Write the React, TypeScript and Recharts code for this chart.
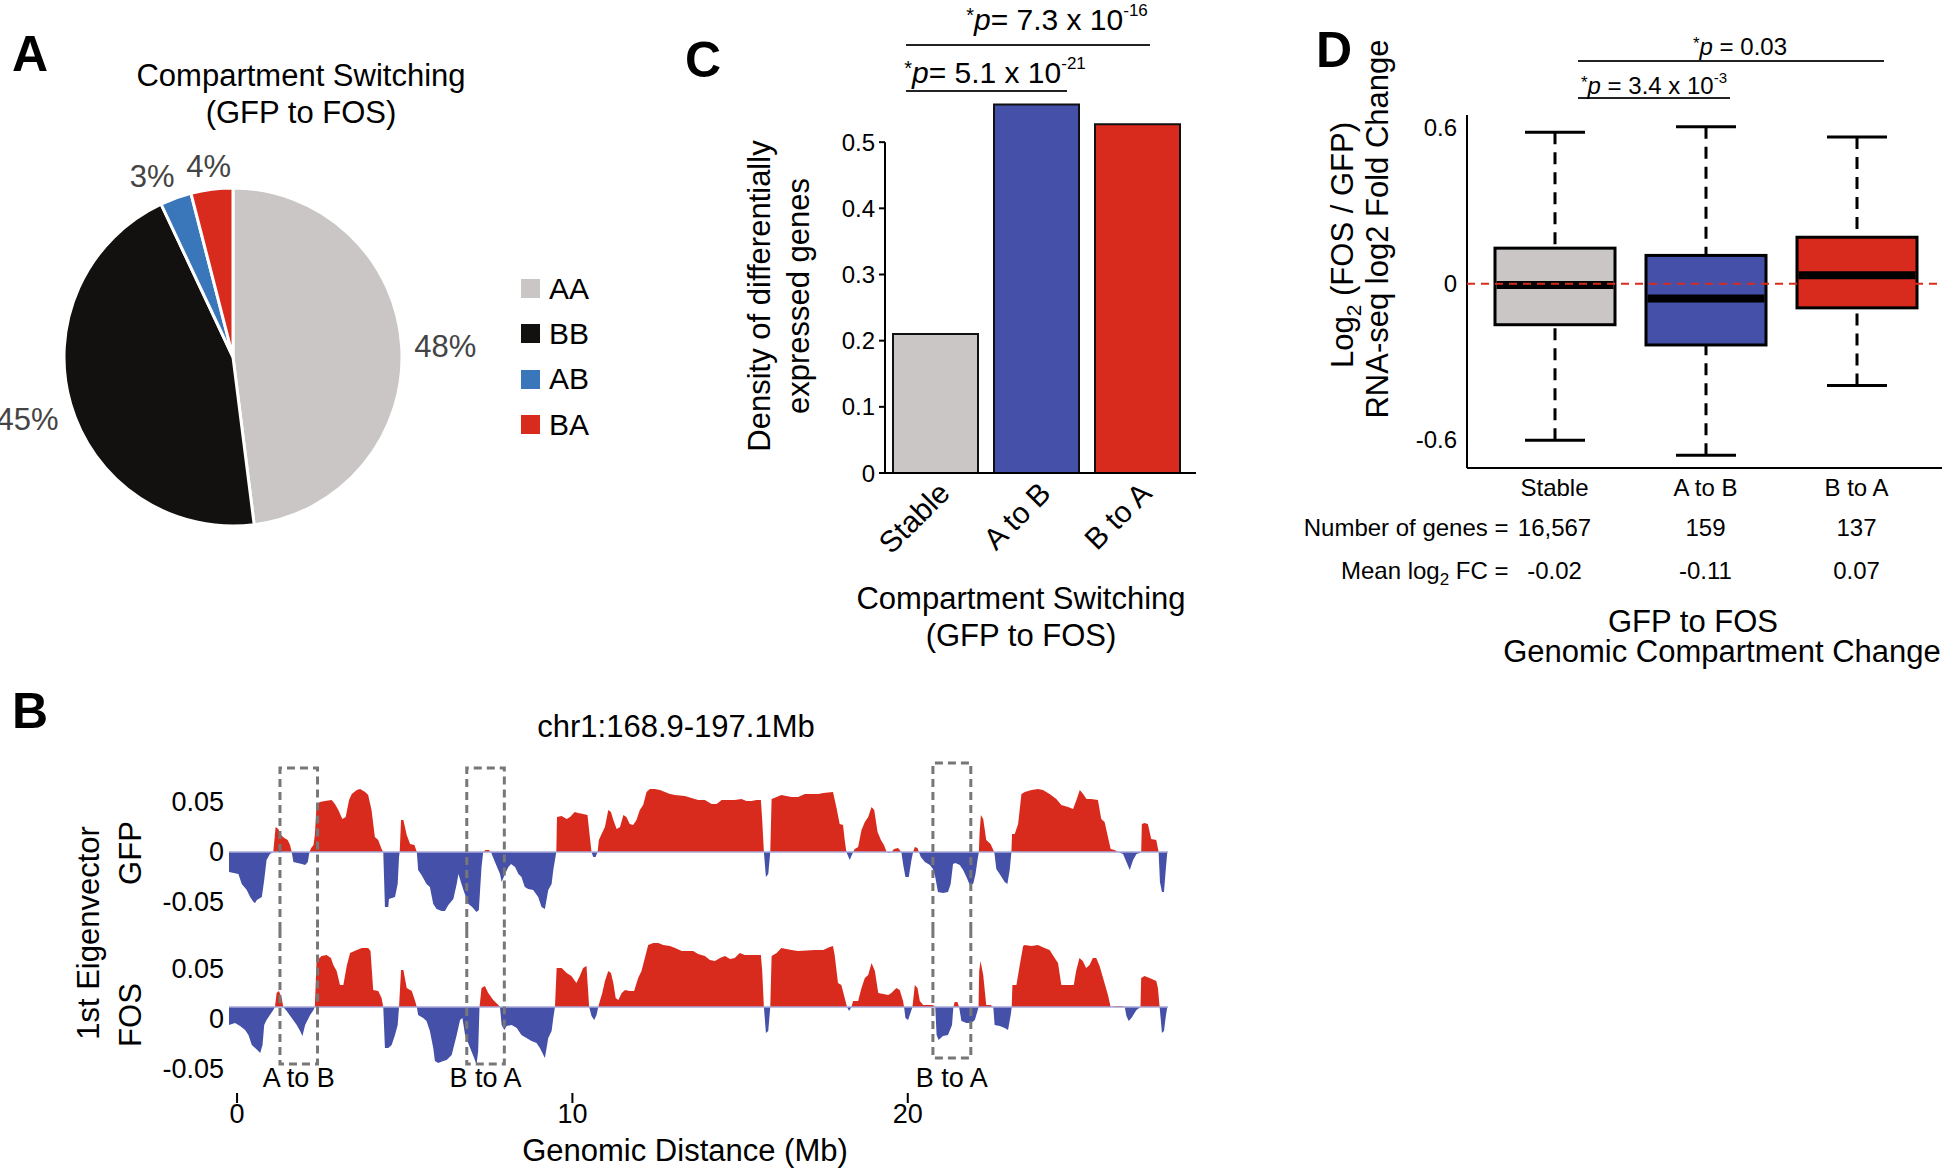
import React from 'react';
import {
  PieChart, Pie, Cell, Legend,
  BarChart, Bar, XAxis, YAxis, ReferenceLine, ReferenceArea,
  AreaChart, Area,
} from 'recharts';

const SANS = "'Liberation Sans', Arial, Helvetica, sans-serif";
const RED = '#d92b1d';
const BLUE = '#4550a8';
const GREY = '#c9c6c5';

// ---- A: compartment switching pie
const switchClasses = ['AA', 'BB', 'AB', 'BA'];
const switchPercents = [48, 45, 3, 4];
const switchColors = [GREY, '#121110', '#3a76ba', RED];
// small slices get their label turned a little so 3% and 4% do not touch
const labelTurnDeg = [0, 0, 4, 0];

// ---- B: first eigenvector tracks (Mb from start of chr1:168.9-197.1Mb)
const gfpMb = [
  -0.24, 0.04, 0.14, 0.29, 0.39, 0.49, 0.54, 0.59, 0.74, 0.81, 0.88, 0.98, 1.08, 1.15, 1.23, 1.31, 1.41, 1.51, 1.58, 1.63,
  1.68, 1.93, 2.03, 2.11, 2.16, 2.21, 2.28, 2.32, 2.37, 2.47, 2.62, 2.82, 2.92, 3.02, 3.14, 3.24, 3.34, 3.42, 3.57, 3.67,
  3.82, 3.91, 4.01, 4.11, 4.21, 4.31, 4.36, 4.41, 4.51, 4.53, 4.71, 4.79, 4.83, 4.85, 4.89, 4.96, 5.06, 5.16, 5.29, 5.36,
  5.40, 5.50, 5.65, 5.75, 5.85, 5.95, 6.10, 6.20, 6.30, 6.45, 6.55, 6.60, 6.75, 6.90, 7.01, 7.14, 7.21, 7.29, 7.34, 7.41,
  7.51, 7.57, 7.69, 7.84, 7.89, 7.99, 8.09, 8.17, 8.29, 8.39, 8.48, 8.58, 8.68, 8.83, 8.98, 9.08, 9.18, 9.28, 9.38, 9.43,
  9.48, 9.52, 9.54, 9.68, 9.83, 9.93, 10.07, 10.17, 10.32, 10.45, 10.52, 10.57, 10.62, 10.69, 10.75, 10.79, 10.87, 10.97, 11.07, 11.15,
  11.22, 11.32, 11.42, 11.52, 11.61, 11.71, 11.81, 11.91, 12.01, 12.11, 12.21, 12.31, 12.46, 12.61, 12.76, 12.91, 13.06, 13.35, 13.55, 13.75,
  13.95, 14.15, 14.30, 14.45, 14.65, 14.84, 15.04, 15.19, 15.34, 15.49, 15.62, 15.66, 15.71, 15.77, 15.84, 15.90, 15.94, 16.09, 16.23, 16.38,
  16.53, 16.73, 16.93, 17.13, 17.33, 17.48, 17.77, 17.87, 17.97, 18.07, 18.12, 18.17, 18.27, 18.37, 18.42, 18.52, 18.62, 18.72, 18.82, 18.92,
  19.00, 19.10, 19.20, 19.29, 19.37, 19.43, 19.51, 19.59, 19.71, 19.81, 19.86, 19.93, 20.03, 20.11, 20.16, 20.21, 20.29, 20.33, 20.39, 20.51,
  20.66, 20.75, 20.82, 20.90, 21.05, 21.20, 21.28, 21.35, 21.42, 21.55, 21.65, 21.75, 21.85, 21.95, 22.02, 22.08, 22.12, 22.14, 22.18, 22.25,
  22.34, 22.47, 22.55, 22.58, 22.64, 22.74, 22.89, 22.97, 23.04, 23.09, 23.11, 23.19, 23.29, 23.39, 23.49, 23.69, 23.88, 24.03, 24.23, 24.43,
  24.58, 24.78, 24.93, 25.03, 25.13, 25.23, 25.33, 25.47, 25.67, 25.77, 25.87, 25.97, 26.05, 26.17, 26.27, 26.42, 26.52, 26.62, 26.72, 26.82,
  26.92, 26.96, 26.98, 27.06, 27.16, 27.26, 27.41, 27.48, 27.52, 27.58, 27.64, 27.70, 27.74,
];
const gfpEigen = [
  -0.020, -0.022, -0.032, -0.038, -0.045, -0.050, -0.051, -0.048, -0.045, -0.028, -0.008, -0.002, 0, 0.025, 0.023, 0.017, 0.014, 0.012, 0.007, 0,
  -0.010, -0.012, -0.013, -0.010, 0, 0.004, 0.007, 0.017, 0.047, 0.050, 0.051, 0.052, 0.048, 0.042, 0.033, 0.035, 0.052, 0.058, 0.062, 0.063,
  0.060, 0.057, 0.042, 0.015, 0.012, 0.003, 0, -0.055, -0.055, -0.047, -0.045, -0.032, -0.005, 0, 0.032, 0.032, 0.017, 0.008, 0.007, 0,
  -0.018, -0.023, -0.032, -0.035, -0.052, -0.057, -0.059, -0.059, -0.053, -0.047, -0.032, -0.022, -0.038, -0.052, -0.055, -0.060, -0.058, -0.015, 0, 0.002,
  0.002, 0, -0.010, -0.022, -0.030, -0.022, -0.015, -0.012, -0.015, -0.022, -0.025, -0.035, -0.037, -0.038, -0.045, -0.055, -0.057, -0.038, -0.032, -0.018,
  -0.008, 0, 0.035, 0.036, 0.033, 0.035, 0.040, 0.039, 0.038, 0.037, 0.015, 0, -0.005, -0.005, 0, 0.012, 0.018, 0.025, 0.042, 0.040,
  0.032, 0.023, 0.025, 0.037, 0.035, 0.028, 0.027, 0.032, 0.042, 0.047, 0.060, 0.063, 0.063, 0.062, 0.060, 0.058, 0.057, 0.056, 0.054, 0.052,
  0.052, 0.048, 0.048, 0.052, 0.052, 0.052, 0.053, 0.051, 0.051, 0.052, 0.052, 0.032, 0, -0.025, -0.022, 0, 0.053, 0.055, 0.057, 0.056,
  0.055, 0.055, 0.058, 0.058, 0.058, 0.059, 0.060, 0.045, 0.028, 0.027, 0.012, 0, -0.008, 0, 0.003, 0.005, 0.022, 0.030, 0.035, 0.045,
  0.042, 0.020, 0.012, 0.007, 0, -0.001, 0, 0.003, 0.004, 0, -0.012, -0.025, -0.025, -0.008, 0, 0.005, 0.004, 0, -0.005, -0.010,
  -0.013, -0.017, -0.025, -0.040, -0.041, -0.040, -0.032, -0.012, -0.011, -0.013, -0.018, -0.025, -0.033, -0.032, -0.022, -0.008, 0, 0.018, 0.037, 0.033,
  0.012, 0.008, 0.002, 0, -0.017, -0.022, -0.030, -0.032, -0.018, 0, 0.018, 0.018, 0.028, 0.058, 0.060, 0.062, 0.063, 0.062, 0.058, 0.053,
  0.047, 0.045, 0.043, 0.052, 0.062, 0.058, 0.053, 0.053, 0.052, 0.033, 0.030, 0.015, 0.003, 0.002, 0, -0.002, -0.010, -0.018, -0.008, -0.002,
  -0.001, 0, 0.028, 0.029, 0.028, 0.013, 0.012, 0, -0.030, -0.040, -0.040, -0.015, 0,
];
const fosMb = [
  -0.24, -0.06, 0.09, 0.24, 0.34, 0.44, 0.54, 0.69, 0.76, 0.81, 0.88, 0.98, 1.08, 1.13, 1.18, 1.25, 1.33, 1.38, 1.48, 1.63,
  1.78, 1.88, 1.95, 2.03, 2.18, 2.28, 2.32, 2.37, 2.52, 2.67, 2.80, 2.87, 2.97, 3.07, 3.17, 3.27, 3.37, 3.57, 3.72, 3.91,
  3.98, 4.06, 4.21, 4.31, 4.36, 4.41, 4.51, 4.61, 4.71, 4.79, 4.83, 4.89, 4.96, 5.06, 5.21, 5.31, 5.36, 5.40, 5.55, 5.65,
  5.75, 5.85, 5.90, 6.00, 6.15, 6.25, 6.40, 6.55, 6.65, 6.72, 6.80, 6.95, 7.07, 7.14, 7.19, 7.23, 7.29, 7.39, 7.49, 7.64,
  7.79, 7.84, 7.89, 7.97, 8.04, 8.19, 8.34, 8.48, 8.63, 8.78, 8.93, 9.03, 9.18, 9.28, 9.38, 9.43, 9.48, 9.53, 9.68, 9.83,
  9.97, 10.12, 10.22, 10.32, 10.42, 10.50, 10.57, 10.65, 10.72, 10.77, 10.82, 10.89, 10.97, 11.07, 11.15, 11.22, 11.29, 11.37, 11.47, 11.57,
  11.71, 11.84, 11.96, 12.06, 12.16, 12.26, 12.41, 12.56, 12.71, 12.91, 13.06, 13.26, 13.60, 13.75, 13.95, 14.10, 14.25, 14.40, 14.55, 14.70,
  14.84, 14.99, 15.14, 15.62, 15.66, 15.71, 15.77, 15.84, 15.90, 15.94, 16.09, 16.23, 16.38, 16.53, 16.73, 17.23, 17.48, 17.67, 17.77, 17.82,
  17.92, 18.02, 18.12, 18.19, 18.25, 18.32, 18.37, 18.52, 18.62, 18.72, 18.82, 18.92, 19.02, 19.12, 19.27, 19.42, 19.51, 19.66, 19.76, 19.86,
  19.89, 19.93, 20.01, 20.11, 20.14, 20.21, 20.29, 20.36, 20.46, 20.75, 20.82, 20.86, 20.92, 21.05, 21.20, 21.32, 21.36, 21.40, 21.48, 21.53,
  21.60, 21.75, 21.90, 22.00, 22.08, 22.11, 22.13, 22.17, 22.25, 22.34, 22.47, 22.55, 22.59, 22.74, 22.89, 22.99, 23.07, 23.10, 23.12, 23.24,
  23.34, 23.44, 23.49, 23.69, 23.88, 24.08, 24.23, 24.38, 24.48, 24.58, 24.95, 25.02, 25.12, 25.22, 25.32, 25.42, 25.52, 25.62, 25.72, 25.85,
  25.97, 26.05, 26.22, 26.37, 26.47, 26.52, 26.59, 26.67, 26.82, 26.94, 26.96, 27.06, 27.21, 27.41, 27.46, 27.51, 27.54, 27.58, 27.64, 27.70,
  27.74,
];
const fosEigen = [
  -0.018, -0.016, -0.019, -0.023, -0.028, -0.038, -0.041, -0.046, -0.038, -0.018, -0.013, -0.008, -0.003, 0, 0.014, 0.016, 0.009, 0, -0.004, -0.011,
  -0.018, -0.024, -0.029, -0.018, -0.008, -0.003, 0, 0.046, 0.051, 0.052, 0.049, 0.042, 0.036, 0.022, 0.022, 0.041, 0.054, 0.057, 0.059, 0.059,
  0.056, 0.017, 0.016, 0.009, 0, -0.041, -0.041, -0.038, -0.028, -0.018, 0, 0.037, 0.037, 0.019, 0.016, 0.006, 0, -0.008, -0.011, -0.014,
  -0.024, -0.041, -0.054, -0.056, -0.054, -0.053, -0.048, -0.028, -0.013, -0.011, -0.028, -0.041, -0.051, -0.058, -0.044, 0, 0.019, 0.021, 0.014, 0.007,
  0.002, 0, -0.018, -0.023, -0.019, -0.018, -0.021, -0.028, -0.031, -0.034, -0.036, -0.041, -0.051, -0.031, -0.024, -0.011, 0, 0.039, 0.039, 0.034,
  0.031, 0.024, 0.031, 0.039, 0.041, 0, -0.009, -0.013, -0.008, 0, 0.006, 0.014, 0.026, 0.036, 0.034, 0.024, 0.009, 0.007, 0.014, 0.017,
  0.016, 0.016, 0.029, 0.036, 0.049, 0.062, 0.064, 0.064, 0.062, 0.061, 0.059, 0.056, 0.056, 0.053, 0.051, 0.047, 0.046, 0.049, 0.051, 0.048,
  0.049, 0.054, 0.052, 0.052, 0.036, 0, -0.026, -0.024, 0, 0.051, 0.054, 0.059, 0.058, 0.057, 0.056, 0.057, 0.057, 0.060, 0.061, 0.052,
  0.024, 0.022, 0.009, 0, -0.004, 0, 0.006, 0.006, 0.019, 0.029, 0.032, 0.044, 0.036, 0.014, 0.013, 0.012, 0.014, 0.019, 0.017, 0.006,
  0, -0.011, -0.013, -0.003, 0, 0.022, 0.019, 0.006, 0.002, 0.002, 0, -0.028, -0.033, -0.029, -0.028, -0.018, 0, 0.005, 0.005, 0,
  -0.014, -0.016, -0.016, -0.013, -0.004, 0, 0.036, 0.046, 0.032, 0.002, 0.002, 0, -0.018, -0.019, -0.021, -0.023, -0.008, 0, 0.022, 0.022,
  0.042, 0.061, 0.062, 0.061, 0.062, 0.059, 0.057, 0.049, 0.044, 0.022, 0.022, 0.036, 0.049, 0.046, 0.039, 0.042, 0.049, 0.049, 0.041, 0.026,
  0.012, 0, 0.001, 0.001, 0, -0.009, -0.014, -0.011, -0.003, 0, 0.029, 0.031, 0.029, 0.026, 0.019, 0, -0.011, -0.026, -0.024, -0.008,
  0,
];
const mbDomain: [number, number] = [-0.24, 27.76];
const distanceTicks = [0, 10, 20];
const eigenTicks = [-0.05, 0, 0.05];
// switched regions boxed on both tracks
const boxLabels = ['A to B', 'B to A', 'B to A'];
const boxStartMb = [1.28, 6.85, 20.75];
const boxEndMb = [2.4, 7.97, 21.88];
const boxTopGfp = [0.084, 0.084, 0.089];
const boxBottomFos = [-0.057, -0.057, -0.051];

// ---- C: density of DE genes
const switchGroups = ['Stable', 'A to B', 'B to A'];
const degDensity = [0.21, 0.557, 0.527];
const groupColors = [GREY, BLUE, RED];
const densityTicks = [0, 0.1, 0.2, 0.3, 0.4, 0.5];

// ---- D: RNA-seq log2 fold change boxplots
const fcMin = [-0.603, -0.661, -0.392];
const fcQ1 = [-0.158, -0.236, -0.093];
const fcMedian = [-0.005, -0.057, 0.033];
const fcQ3 = [0.137, 0.109, 0.179];
const fcMax = [0.584, 0.605, 0.565];
const geneCounts = ['16,567', '159', '137'];
const meanFC = ['-0.02', '-0.11', '0.07'];
const fcTicks = [-0.6, 0, 0.6];

const pieData = switchClasses.map((name, i) => ({ name, value: switchPercents[i], color: switchColors[i], turn: labelTurnDeg[i] }));
const gfpData = gfpMb.map((mb, i) => ({ mb, eig: gfpEigen[i] }));
const fosData = fosMb.map((mb, i) => ({ mb, eig: fosEigen[i] }));
const densityData = switchGroups.map((group, i) => ({ group, density: degDensity[i], color: groupColors[i] }));
const boxData = switchGroups.map((group, i) => ({
  group, min: fcMin[i], q1: fcQ1[i], median: fcMedian[i], q3: fcQ3[i], max: fcMax[i], color: groupColors[i],
}));

const RAD = Math.PI / 180;

function PieLabel(props: any) {
  const { cx, cy, midAngle, outerRadius, value, index } = props;
  const text = `${value}%`;
  const fs = 31;
  const hw = (((text.length - 1) * 0.556 + 0.889) * fs) / 2;
  const ang = midAngle + (pieData[index]?.turn ?? 0);
  const c = Math.cos(-ang * RAD);
  const s = Math.sin(-ang * RAD);
  const r = outerRadius + 12 + hw * Math.abs(c) + 0.36 * fs * Math.abs(s);
  return (
    <text x={cx + r * c} y={cy + r * s + 3} textAnchor="middle" dominantBaseline="central" fill="#444" fontSize={fs}>
      {text}
    </text>
  );
}

function PieLegend() {
  return (
    <div style={{ fontFamily: SANS }}>
      {pieData.map((d) => (
        <div key={d.name} style={{ display: 'flex', alignItems: 'center', height: 45.3 }}>
          <span style={{ width: 19, height: 19, background: d.color, marginRight: 9 }} />
          <span style={{ fontSize: 30, color: '#000' }}>{d.name}</span>
        </div>
      ))}
    </div>
  );
}

function splitOffset(vals: number[]) {
  const max = Math.max(...vals);
  const min = Math.min(...vals);
  return max / (max - min);
}

const boxStroke = { fill: 'none', stroke: '#777', strokeWidth: 3, strokeDasharray: '8 5' };
function BoxUpper(p: any) {
  const { x, y, width: w, height: h } = p;
  return <path d={`M${x},${y + h}V${y}H${x + w}V${y + h}`} {...boxStroke} />;
}
function BoxLower(p: any) {
  const { x, y, width: w, height: h } = p;
  return <path d={`M${x},${y}V${y + h}H${x + w}V${y}`} {...boxStroke} />;
}

function eigenTick(shift: number) {
  return function EigenTick({ x, y, payload }: any) {
    const v = payload.value;
    return (
      <text x={x} y={y + shift} textAnchor="end" dominantBaseline="central" fontSize={27} fill="#000">
        {v === 0 ? '0' : v.toFixed(2)}
      </text>
    );
  };
}

function DistanceTick({ x, y, payload }: any) {
  return (
    <g>
      <line x1={x} x2={x} y1={y + 18} y2={y + 28} stroke="#000" strokeWidth={2} />
      <text x={x} y={y + 48} textAnchor="middle" fontSize={27} fill="#000">{payload.value}</text>
    </g>
  );
}

function EigenTrack({ data, id, top, height, margin, domain, shift, lower }: any) {
  const off = splitOffset(data.map((d: any) => d.eig));
  const plotH = height - margin.top - margin.bottom - (lower ? 60 : 0);
  const pxPerUnit = plotH / (domain[1] - domain[0]);
  const lowest = Math.min(...boxBottomFos);
  return (
    <div style={{ position: 'absolute', left: 100, top }}>
      <AreaChart width={1080} height={height} data={data} margin={margin}>
        <defs>
          <linearGradient id={id} x1="0" y1="0" x2="0" y2="1">
            <stop offset={off} stopColor={RED} />
            <stop offset={off} stopColor={BLUE} />
          </linearGradient>
        </defs>
        <XAxis
          type="number" dataKey="mb" domain={mbDomain} ticks={distanceTicks} allowDataOverflow
          hide={!lower} axisLine={false} tickLine={false} tickSize={0} tickMargin={0} height={60}
          tick={DistanceTick} interval={0}
        />
        <YAxis
          type="number" domain={domain} ticks={eigenTicks} allowDataOverflow width={100}
          axisLine={false} tickLine={false} tickSize={0} tickMargin={5} tick={eigenTick(shift)} interval={0}
        />
        <Area type="linear" dataKey="eig" baseValue={0} stroke="none" fill={`url(#${id})`} fillOpacity={1}
          dot={false} activeDot={false} isAnimationActive={false} />
        <ReferenceLine y={0} stroke="#a8a8da" strokeWidth={1.5} zIndex={800} />
        {boxLabels.map((lab, i) => (
          <ReferenceArea
            key={i}
            x1={boxStartMb[i]} x2={boxEndMb[i]}
            y1={lower ? boxBottomFos[i] : domain[0]} y2={lower ? domain[1] : boxTopGfp[i]}
            shape={lower ? BoxLower : BoxUpper}
            zIndex={800}
            label={lower ? {
              value: lab, position: 'bottom', offset: 4 + (boxBottomFos[i] - lowest) * pxPerUnit,
              fontSize: 27, fill: '#000',
            } : undefined}
          />
        ))}
      </AreaChart>
    </div>
  );
}

function SlantTick({ x, y, payload }: any) {
  const ax = x + 16;
  const ay = y + 22;
  return (
    <text x={ax} y={ay} textAnchor="end" transform={`rotate(-45, ${ax}, ${ay})`} fontSize={30} fill="#000">
      {payload.value}
    </text>
  );
}

function BoxShape(props: any) {
  const { x, y, width, height, payload } = props;
  const top = Math.min(y, y + height);
  const bottom = Math.max(y, y + height);
  const py = (v: number) => top + ((bottom - top) * (payload.q3 - v)) / (payload.q3 - payload.q1);
  const cx = x + width / 2;
  const cap = width / 4;
  const yMax = py(payload.max);
  const yMin = py(payload.min);
  const yMed = py(payload.median);
  return (
    <g>
      <line x1={cx} x2={cx} y1={yMax} y2={top} stroke="#000" strokeWidth={3} strokeDasharray="12 8" />
      <line x1={cx} x2={cx} y1={yMin} y2={bottom} stroke="#000" strokeWidth={3} strokeDasharray="12 8" />
      <line x1={cx - cap} x2={cx + cap} y1={yMax} y2={yMax} stroke="#000" strokeWidth={3} />
      <line x1={cx - cap} x2={cx + cap} y1={yMin} y2={yMin} stroke="#000" strokeWidth={3} />
      <rect x={x} y={top} width={width} height={bottom - top} fill={payload.color} stroke="#000" strokeWidth={3} />
      <line x1={x + 1.5} x2={x + width - 1.5} y1={yMed} y2={yMed} stroke="#000" strokeWidth={8} />
    </g>
  );
}

function GroupTick({ x, y, payload }: any) {
  const i = switchGroups.indexOf(payload.value);
  return (
    <g fontSize={24} fill="#000">
      <text x={x} y={y + 28} textAnchor="middle">{payload.value}</text>
      <text x={x} y={y + 68} textAnchor="middle">{geneCounts[i]}</text>
      <text x={x} y={y + 111} textAnchor="middle">{meanFC[i]}</text>
      {i === 0 && (
        <>
          <text x={x - 46} y={y + 68} textAnchor="end">Number of genes =</text>
          <text x={x - 46} y={y + 111} textAnchor="end">
            Mean log<tspan fontSize={17} dy={6}>2</tspan><tspan dy={-6}> FC =</tspan>
          </text>
        </>
      )}
    </g>
  );
}

export default function App() {
  return (
    <div style={{ position: 'absolute', left: 0, top: 0, width: 1952, height: 1170, background: '#fff', fontFamily: SANS, overflow: 'hidden' }}>
      {/* A */}
      <div style={{ position: 'absolute', left: 0, top: 120 }}>
        <PieChart width={700} height={480} margin={{ top: 0, right: 0, bottom: 0, left: 0 }}>
          <Pie
            data={pieData} dataKey="value" nameKey="name" cx={233} cy={237} outerRadius={169}
            startAngle={90} endAngle={-270} stroke="#fff" strokeWidth={3}
            label={PieLabel} labelLine={false} isAnimationActive={false}
          >
            {pieData.map((d) => <Cell key={d.name} fill={d.color} />)}
          </Pie>
          <Legend layout="vertical" align="right" verticalAlign="middle" content={PieLegend}
            wrapperStyle={{ left: 521, top: 146, width: 140, right: 'auto', bottom: 'auto' }} />
        </PieChart>
      </div>

      {/* B */}
      <EigenTrack data={gfpData} id="gfpSplit" top={740} height={190}
        margin={{ top: 20, right: 12, bottom: 0, left: 29 }} domain={[-0.078, 0.092]} shift={0} lower={false} />
      <EigenTrack data={fosData} id="fosSplit" top={930} height={240}
        margin={{ top: 0, right: 12, bottom: 35, left: 29 }} domain={[-0.068, 0.077]} shift={12} lower />

      {/* C */}
      <div style={{ position: 'absolute', left: 700, top: 40 }}>
        <BarChart width={520} height={600} data={densityData} margin={{ top: 36, right: 24, bottom: 67, left: 125 }}>
          <XAxis dataKey="group" axisLine={{ stroke: '#000', strokeWidth: 2 }} tickLine={false} tickSize={0} tickMargin={0}
            height={100} padding={{ left: 0, right: 8 }} interval={0} tick={SlantTick} />
          <YAxis type="number" domain={[0, 0.6]} ticks={densityTicks} width={60} axisLine={false}
            tickLine={{ stroke: '#000', strokeWidth: 2 }} tickSize={6} tickMargin={4} interval={0}
            tick={{ fontSize: 24, fill: '#000' }} tickFormatter={(v: number) => (v === 0 ? '0' : String(v))} />
          <Bar dataKey="density" barSize={85} stroke="#111" strokeWidth={2} isAnimationActive={false}>
            {densityData.map((d) => <Cell key={d.group} fill={d.color} />)}
          </Bar>
          <ReferenceLine segment={[{ x: 'Stable', y: 0 }, { x: 'Stable', y: 0.5 }]} position="start"
            stroke="#000" strokeWidth={2} zIndex={800} />
        </BarChart>
      </div>

      {/* D */}
      <div style={{ position: 'absolute', left: 1290, top: 60 }}>
        <BarChart width={662} height={560} data={boxData} margin={{ top: 55, right: 10, bottom: 22, left: 117 }}>
          <XAxis dataKey="group" axisLine={{ stroke: '#000', strokeWidth: 2 }} tickLine={false} tickSize={0} tickMargin={0}
            height={130} padding={{ left: 12, right: 10 }} interval={0} tick={GroupTick} />
          <YAxis type="number" domain={[-0.71, 0.65]} ticks={fcTicks} width={60} allowDataOverflow
            axisLine={{ stroke: '#000', strokeWidth: 2 }} tickLine={false} tickSize={0} tickMargin={10} interval={0}
            tick={{ fontSize: 24, fill: '#000' }} tickFormatter={(v: number) => (v === 0 ? '0' : v.toFixed(1))} />
          <Bar dataKey={(d: any) => [d.q1, d.q3]} barSize={120} shape={BoxShape} isAnimationActive={false} />
          <ReferenceLine y={0} stroke={RED} strokeWidth={2} strokeDasharray="8 6" zIndex={800} />
        </BarChart>
      </div>

      {/* text and annotation overlay */}
      <svg width={1952} height={1170} style={{ position: 'absolute', left: 0, top: 0, pointerEvents: 'none' }} fontFamily={SANS}>
        <g fontSize={50} fontWeight="bold" fill="#000">
          <text x={12} y={71}>A</text>
          <text x={12} y={728}>B</text>
          <text x={685} y={77}>C</text>
          <text x={1316} y={67}>D</text>
        </g>
        <g fontSize={31} textAnchor="middle" fill="#000">
          <text x={301} y={86}>Compartment Switching</text>
          <text x={301} y={123}>(GFP to FOS)</text>

          <text x={676} y={737}>chr1:168.9-197.1Mb</text>
          <text x={99} y={933} transform="rotate(-90 99 933)">1st Eigenvector</text>
          <text x={141} y={853} transform="rotate(-90 141 853)">GFP</text>
          <text x={141} y={1015} transform="rotate(-90 141 1015)">FOS</text>
          <text x={685} y={1161}>Genomic Distance (Mb)</text>

          <text x={1021} y={609}>Compartment Switching</text>
          <text x={1021} y={646}>(GFP to FOS)</text>
          <text x={770} y={296} transform="rotate(-90 770 296)">Density of differentially</text>
          <text x={809} y={296} transform="rotate(-90 809 296)">expressed genes</text>

          <text x={1693} y={632}>GFP to FOS</text>
          <text x={1722} y={662}>Genomic Compartment Change</text>
          <text x={1353} y={245} transform="rotate(-90 1353 245)">
            Log<tspan fontSize={21} dy={8}>2</tspan><tspan dy={-8}> (FOS / GFP)</tspan>
          </text>
          <text x={1388} y={229} transform="rotate(-90 1388 229)">RNA-seq log2 Fold Change</text>
        </g>

        {/* significance bars */}
        <g stroke="#222" strokeWidth={2}>
          <line x1={906} x2={1150} y1={45} y2={45} />
          <line x1={906} x2={1067} y1={91} y2={91} />
          <line x1={1578} x2={1884} y1={61} y2={61} />
          <line x1={1578} x2={1730} y1={98} y2={98} />
        </g>
        <g fill="#000" textAnchor="middle">
          <text x={1057} y={30} fontSize={30}>
            <tspan fontSize={20} dy={-8}>*</tspan><tspan dy={8} fontStyle="italic">p</tspan>= 7.3 x 10<tspan fontSize={17} dy={-14}>-16</tspan>
          </text>
          <text x={995} y={83} fontSize={30}>
            <tspan fontSize={20} dy={-8}>*</tspan><tspan dy={8} fontStyle="italic">p</tspan>= 5.1 x 10<tspan fontSize={17} dy={-14}>-21</tspan>
          </text>
          <text x={1740} y={55} fontSize={24}>
            <tspan fontSize={17} dy={-6}>*</tspan><tspan dy={6} fontStyle="italic">p</tspan> = 0.03
          </text>
          <text x={1654} y={94} fontSize={24}>
            <tspan fontSize={17} dy={-6}>*</tspan><tspan dy={6} fontStyle="italic">p</tspan> = 3.4 x 10<tspan fontSize={15} dy={-11}>-3</tspan>
          </text>
        </g>
      </svg>
    </div>
  );
}
